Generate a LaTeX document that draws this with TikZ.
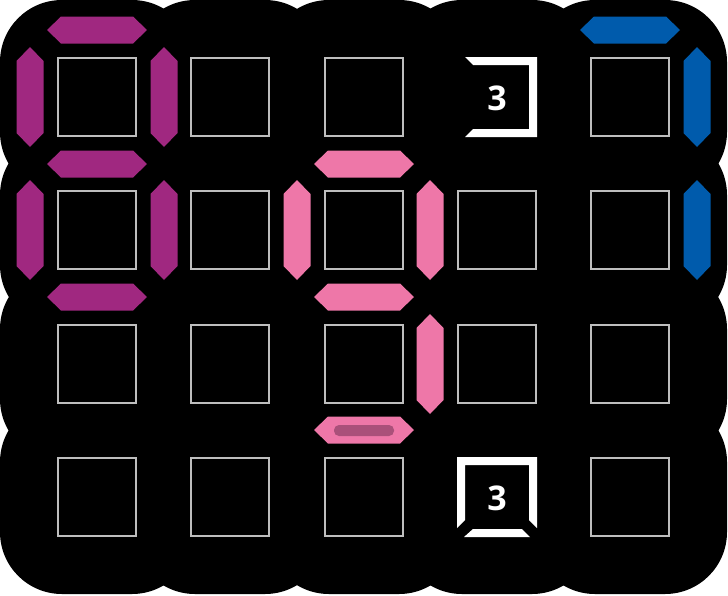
\documentclass[tikz,border=0pt]{standalone}
\usepackage{fontspec}
\setsansfont{Open Sans}
\definecolor{segpurple}{RGB}{160,40,128}
\definecolor{segblue}{RGB}{0,91,172}
\definecolor{segpink}{RGB}{238,119,168}
\definecolor{segdark}{RGB}{170,80,122}
\definecolor{cellgray}{RGB}{190,190,190}
% horizontal and vertical segment at centre (x,y)
\newcommand{\hseg}[3]{\fill[#1,shift={(#2,#3)}] (-50,0)--(-36,-13.5)--(36,-13.5)--(50,0)--(36,13.5)--(-36,13.5)--cycle;}
\newcommand{\vseg}[3]{\fill[#1,shift={(#2,#3)}] (0,-50)--(-13.5,-36)--(-13.5,36)--(0,50)--(13.5,36)--(13.5,-36)--cycle;}

\begin{document}
\begin{tikzpicture}[x=1pt,y=-1pt,
  cellbox/.style={draw=cellgray,line width=2.6pt},
  clue/.style={text=white,font=\sffamily\bfseries\fontsize{34}{34}\selectfont,inner sep=0pt}]
\useasboundingbox (0,0) rectangle (728,595);
% board
\foreach \cx in {97,230,364,497,630}
  \foreach \cy in {97,230,364,497}
    \fill[black,rounded corners=62pt] (\cx-97,\cy-97) rectangle (\cx+97,\cy+97);
% empty cells
\foreach \cx/\cy in {97/97,230/97,364/97,630/97,97/230,230/230,364/230,497/230,630/230,
                     97/364,230/364,364/364,497/364,630/364,97/497,230/497,364/497,630/497}
  \draw[cellbox] (\cx-39,\cy-39) rectangle (\cx+39,\cy+39);
% clue cells
\fill[white] (465,57)--(537,57)--(537,137)--(465,137)--(473,129)--(529,129)--(529,65)--(473,65)--cycle;
\node[clue] (clueA) at (497,98) {3};
\fill[white] (457,528)--(457,457)--(537,457)--(537,528)--(529,520)--(529,465)--(465,465)--(465,520)--cycle;
\fill[white] (464,537)--(530,537)--(522,529)--(473,529)--cycle;
\node[clue] (clueB) at (497,498) {3};
% purple segments
\hseg{segpurple}{97}{30}
\hseg{segpurple}{97}{164}
\hseg{segpurple}{97}{297}
\vseg{segpurple}{30}{97}
\vseg{segpurple}{164}{97}
\vseg{segpurple}{30}{230}
\vseg{segpurple}{164}{230}
% blue segments
\hseg{segblue}{630}{30}
\vseg{segblue}{697}{97}
\vseg{segblue}{697}{230}
% pink segments
\hseg{segpink}{364}{164}
\hseg{segpink}{364}{297}
\hseg{segpink}{364}{430}
\vseg{segpink}{297}{230}
\vseg{segpink}{430}{230}
\vseg{segpink}{430}{364}
\fill[segdark,rounded corners=5pt] (334,425) rectangle (394,436);
\end{tikzpicture}
\end{document}
